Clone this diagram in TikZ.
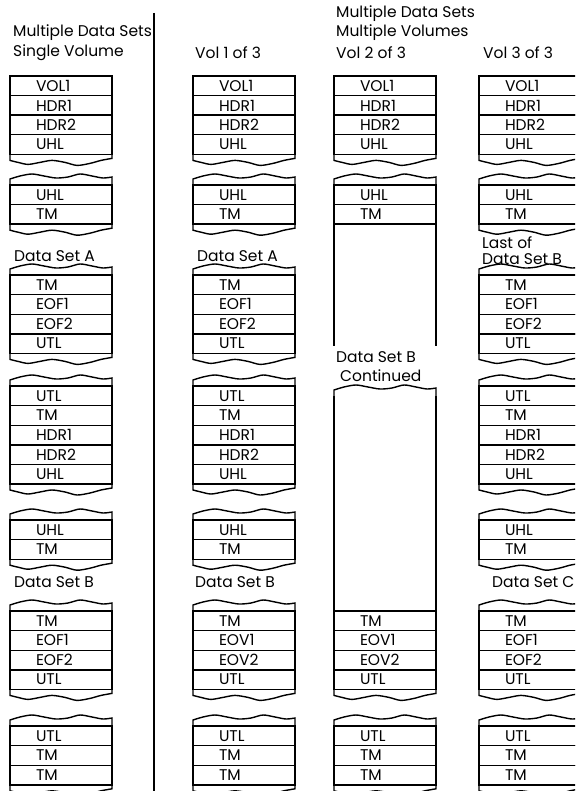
\documentclass[tikz,border=0pt]{standalone}
\usepackage{fontspec}
\setmainfont{Poppins}
\usetikzlibrary{positioning}

\newcommand{\tapefont}{\fontsize{15.5pt}{18pt}\selectfont}
% torn edges below / above a row node
\newcommand{\tornbottom}[1]{%
  \begin{scope}[shift={(#1.south west)}]
    \draw[tapeline] (0,0) -- (0,6) -- plot[smooth] coordinates {(0,6) (8,8) (18,10) (30,8) (42,6) (55,8) (67,11) (80,9) (91,6) (102,4)} -- (102,0);
  \end{scope}}
\newcommand{\torntop}[1]{%
  \begin{scope}[shift={(#1.north west)}]
    \draw[tapeline] (0,0) -- (0,-6) -- plot[smooth] coordinates {(0,-6) (10,-9) (22,-11) (34,-9) (46,-7) (58,-8) (70,-11) (82,-9) (93,-7) (102,-8)} -- (102,0);
  \end{scope}}

\begin{document}
\begin{tikzpicture}[
    x=1pt,y=-1pt,
    rec/.style={
        draw,
        line width=1.4pt,
        outer sep=0pt,
        minimum width=102pt,
        minimum height=19.6pt,
        text width=50pt,
        inner xsep=26pt,
        inner ysep=0pt,
        align=left,
        font=\tapefont
    },
    gap/.style={outer sep=0pt,inner sep=0pt,minimum width=102pt},
    caption/.style={anchor=west,inner sep=0pt,font=\tapefont},
    tapeline/.style={line width=1.4pt}
]
\useasboundingbox (0,0) rectangle (575,791);
\clip (0,0) rectangle (575,791);

% headings
\node[caption] (svtitle) at (13,33) {Multiple Data Sets};
\node[caption] (svvol) at (13,53) {Single Volume};
\node[caption] (vatitle) at (195,53) {Vol 1 of 3};
\node[caption] (mvtitle) at (336,14) {Multiple Data Sets};
\node[caption] (mvsub) at (336,33) {Multiple Volumes};
\node[caption] (vbtitle) at (336,53) {Vol 2 of 3};
\node[caption] (vctitle) at (483,53) {Vol 3 of 3};

\draw[line width=1.6pt] (154,13) -- (154,791);

% single volume
\node[rec,anchor=north west] (sv1) at (10,76) {VOL1};
\node[rec,below=0pt of sv1] (sv2) {HDR1};
\node[rec,below=0pt of sv2] (sv3) {HDR2};
\node[rec,below=0pt of sv3] (sv4) {UHL};
\node[rec,anchor=north west] (sv5) at (10,185) {UHL};
\node[rec,below=0pt of sv5] (sv6) {TM};
\node[caption] (svdsa) at (14,256) {Data Set A};
\node[rec,anchor=north west] (sv7) at (10,275) {TM};
\node[rec,below=0pt of sv7] (sv8) {EOF1};
\node[rec,below=0pt of sv8] (sv9) {EOF2};
\node[rec,below=0pt of sv9] (sv10) {UTL};
\node[rec,anchor=north west] (sv11) at (10,386) {UTL};
\node[rec,below=0pt of sv11] (sv12) {TM};
\node[rec,below=0pt of sv12] (sv13) {HDR1};
\node[rec,below=0pt of sv13] (sv14) {HDR2};
\node[rec,below=0pt of sv14] (sv15) {UHL};
\node[rec,anchor=north west] (sv16) at (10,520) {UHL};
\node[rec,below=0pt of sv16] (sv17) {TM};
\node[caption] (svdsb) at (14,582) {Data Set B};
\node[rec,anchor=north west] (sv18) at (10,611) {TM};
\node[rec,below=0pt of sv18] (sv19) {EOF1};
\node[rec,below=0pt of sv19] (sv20) {EOF2};
\node[rec,below=0pt of sv20] (sv21) {UTL};
\node[rec,anchor=north west] (sv22) at (10,726) {UTL};
\node[rec,below=0pt of sv22] (sv23) {TM};
\node[rec,below=0pt of sv23] (sv24) {TM};
\tornbottom{sv4}
\torntop{sv5}\tornbottom{sv6}
\torntop{sv7}\tornbottom{sv10}
\torntop{sv11}\tornbottom{sv15}
\torntop{sv16}\tornbottom{sv17}
\torntop{sv18}\tornbottom{sv21}
\torntop{sv22}\tornbottom{sv24}

% vol 1 of 3
\node[rec,anchor=north west] (va1) at (193,76) {VOL1};
\node[rec,below=0pt of va1] (va2) {HDR1};
\node[rec,below=0pt of va2] (va3) {HDR2};
\node[rec,below=0pt of va3] (va4) {UHL};
\node[rec,anchor=north west] (va5) at (193,185) {UHL};
\node[rec,below=0pt of va5] (va6) {TM};
\node[caption] (vadsa) at (197,256) {Data Set A};
\node[rec,anchor=north west] (va7) at (193,275) {TM};
\node[rec,below=0pt of va7] (va8) {EOF1};
\node[rec,below=0pt of va8] (va9) {EOF2};
\node[rec,below=0pt of va9] (va10) {UTL};
\node[rec,anchor=north west] (va11) at (193,386) {UTL};
\node[rec,below=0pt of va11] (va12) {TM};
\node[rec,below=0pt of va12] (va13) {HDR1};
\node[rec,below=0pt of va13] (va14) {HDR2};
\node[rec,below=0pt of va14] (va15) {UHL};
\node[rec,anchor=north west] (va16) at (193,520) {UHL};
\node[rec,below=0pt of va16] (va17) {TM};
\node[caption] (vadsb) at (195,582) {Data Set B};
\node[rec,anchor=north west] (va18) at (193,611) {TM};
\node[rec,below=0pt of va18] (va19) {EOV1};
\node[rec,below=0pt of va19] (va20) {EOV2};
\node[rec,below=0pt of va20] (va21) {UTL};
\node[rec,anchor=north west] (va22) at (193,726) {UTL};
\node[rec,below=0pt of va22] (va23) {TM};
\node[rec,below=0pt of va23] (va24) {TM};
\tornbottom{va4}
\torntop{va5}\tornbottom{va6}
\torntop{va7}\tornbottom{va10}
\torntop{va11}\tornbottom{va15}
\torntop{va16}\tornbottom{va17}
\torntop{va18}\tornbottom{va21}
\torntop{va22}\tornbottom{va24}

% vol 2 of 3
\node[rec,anchor=north west] (vb1) at (334,76) {VOL1};
\node[rec,below=0pt of vb1] (vb2) {HDR1};
\node[rec,below=0pt of vb2] (vb3) {HDR2};
\node[rec,below=0pt of vb3] (vb4) {UHL};
\node[rec,anchor=north west] (vb5) at (334,185) {UHL};
\node[rec,below=0pt of vb5] (vb6) {TM};
\node[gap,below=0pt of vb6,minimum height=122pt] (vbrest) {};
\node[caption] (vbdsb) at (336,357) {Data Set B};
\node[caption] (vbcont) at (340,376) {Continued};
\node[rec,anchor=north west] (vb7) at (334,611) {TM};
\node[gap,above=0pt of vb7,minimum height=215pt] (vbgap) {};
\node[rec,below=0pt of vb7] (vb8) {EOV1};
\node[rec,below=0pt of vb8] (vb9) {EOV2};
\node[rec,below=0pt of vb9] (vb10) {UTL};
\node[rec,anchor=north west] (vb11) at (334,726) {UTL};
\node[rec,below=0pt of vb11] (vb12) {TM};
\node[rec,below=0pt of vb12] (vb13) {TM};
\draw[tapeline] (vbrest.north west) -- (vbrest.south west);
\draw[tapeline] (vbrest.north east) -- (vbrest.south east);
\draw[tapeline] (vbgap.north west) -- (vbgap.south west);
\draw[tapeline] (vbgap.north east) -- (vbgap.south east);
\tornbottom{vb4}
\torntop{vb5}
\torntop{vbgap}\tornbottom{vb10}
\torntop{vb11}\tornbottom{vb13}

% vol 3 of 3
\node[rec,anchor=north west] (vc1) at (479,76) {VOL1};
\node[rec,below=0pt of vc1] (vc2) {HDR1};
\node[rec,below=0pt of vc2] (vc3) {HDR2};
\node[rec,below=0pt of vc3] (vc4) {UHL};
\node[rec,anchor=north west] (vc5) at (479,185) {UHL};
\node[rec,below=0pt of vc5] (vc6) {TM};
\node[caption] (vclast) at (482,243) {Last of};
\node[caption] (vcdsb) at (482,259) {Data Set B};
\node[rec,anchor=north west] (vc7) at (479,275) {TM};
\node[rec,below=0pt of vc7] (vc8) {EOF1};
\node[rec,below=0pt of vc8] (vc9) {EOF2};
\node[rec,below=0pt of vc9] (vc10) {UTL};
\node[rec,anchor=north west] (vc11) at (479,386) {UTL};
\node[rec,below=0pt of vc11] (vc12) {TM};
\node[rec,below=0pt of vc12] (vc13) {HDR1};
\node[rec,below=0pt of vc13] (vc14) {HDR2};
\node[rec,below=0pt of vc14] (vc15) {UHL};
\node[rec,anchor=north west] (vc16) at (479,520) {UHL};
\node[rec,below=0pt of vc16] (vc17) {TM};
\node[caption] (vcdsc) at (492,582) {Data Set C};
\node[rec,anchor=north west] (vc18) at (479,611) {TM};
\node[rec,below=0pt of vc18] (vc19) {EOF1};
\node[rec,below=0pt of vc19] (vc20) {EOF2};
\node[rec,below=0pt of vc20] (vc21) {UTL};
\node[rec,anchor=north west] (vc22) at (479,726) {UTL};
\node[rec,below=0pt of vc22] (vc23) {TM};
\node[rec,below=0pt of vc23] (vc24) {TM};
\tornbottom{vc4}
\torntop{vc5}\tornbottom{vc6}
\torntop{vc7}\tornbottom{vc10}
\torntop{vc11}\tornbottom{vc15}
\torntop{vc16}\tornbottom{vc17}
\torntop{vc18}\tornbottom{vc21}
\torntop{vc22}\tornbottom{vc24}
\end{tikzpicture}
\end{document}
